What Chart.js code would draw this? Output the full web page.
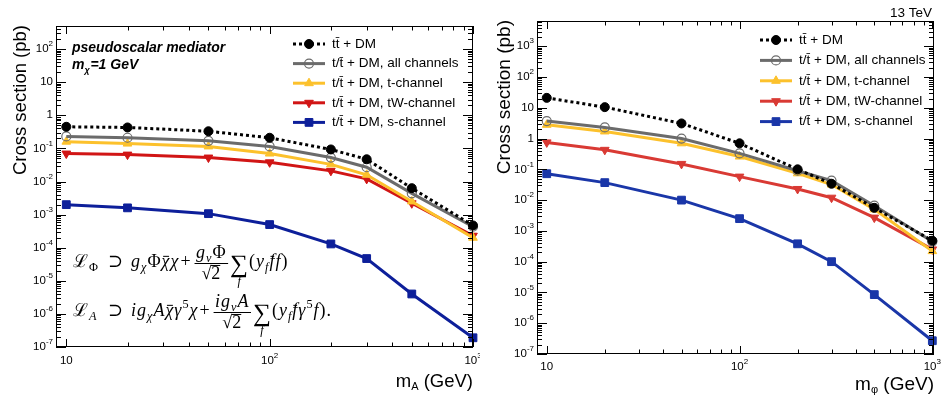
<!DOCTYPE html>
<html lang="en">
<head>
<meta charset="UTF-8" />
<title>t/tt + DM cross sections</title>
<script src="https://cdn.jsdelivr.net/npm/chart.js"></script>
<style>
  body { margin: 0; background: #fff; }
  #wrap { position: relative; width: 949px; height: 397px; overflow: hidden; }
  canvas { position: absolute; top: 0; }
  #left { left: 0; }
  #right { left: 480px; }
</style>
</head>
<body>
<div id="wrap">
  <canvas id="left" width="480" height="397"></canvas>
  <canvas id="right" width="469" height="397"></canvas>
</div>
<script>
// mediator masses (GeV)
const masses = [10, 20, 50, 100, 200, 300, 500, 1000];

// pseudoscalar mediator, cross sections in pb
const psTTDM = [0.45, 0.43, 0.33, 0.21, 0.093, 0.047, 0.0063, 4.7e-4];
const psAll  = [0.23, 0.21, 0.17, 0.115, 0.053, 0.027, 0.0044, 4.3e-4];
const psT    = [0.16, 0.14, 0.115, 0.07, 0.033, 0.016, 0.0025, 2.0e-4];
const psTW   = [0.07, 0.065, 0.053, 0.038, 0.021, 0.012, 0.0022, 2.3e-4];
const psS    = [0.002, 0.0016, 0.00107, 5e-4, 1.3e-4, 4.7e-5, 4e-6, 1.9e-7];

// scalar mediator, cross sections in pb
const scTTDM = [21, 10.5, 3.1, 0.7, 0.1, 0.034, 0.0056, 4.8e-4];
const scAll  = [3.7, 2.3, 1.0, 0.33, 0.09, 0.043, 0.0066, 4.5e-4];
const scT    = [2.8, 1.7, 0.7, 0.26, 0.074, 0.032, 0.005, 2.2e-4];
const scTW   = [0.75, 0.43, 0.15, 0.058, 0.023, 0.012, 0.0027, 2.5e-4];
const scS    = [0.072, 0.037, 0.01, 0.0025, 3.8e-4, 1e-4, 8.5e-6, 2.7e-7];

const seriesLabels = [
  'tt\u0304 + DM',
  't/t\u0304 + DM, all channels',
  't/t\u0304 + DM, t-channel',
  't/t\u0304 + DM, tW-channel',
  't/t\u0304 + DM, s-channel'
];

// axis ticks (powers of ten)
const xMajor = [10, 100, 1000];
const yMajor = [1e-7, 1e-6, 1e-5, 1e-4, 1e-3, 1e-2, 1e-1, 1, 10, 100, 1000];

const SANS = '"Liberation Sans", Arial, Helvetica, sans-serif';
const SERIF = '"Liberation Serif", "DejaVu Serif", serif';

function styles(red, blue) {
  return [
    { color: '#000000', width: 3, dash: [3, 3], point: 'circle', radius: 4.5, fill: true },
    { color: '#6b6b6b', width: 3, dash: [], point: 'circle', radius: 4.5, fill: false },
    { color: '#fcc12c', width: 3, dash: [], point: 'triangle', radius: 5, fill: true },
    { color: red, width: 3, dash: [], point: 'triangle', radius: 5, rotation: 180, fill: true },
    { color: blue, width: 3, dash: [], point: 'rect', radius: 5.5, fill: true }
  ];
}

function makeDatasets(series, st) {
  return series.map((vals, i) => {
    const s = st[i];
    return {
      label: seriesLabels[i],
      data: masses.map((m, j) => ({ x: m, y: vals[j] })),
      borderColor: s.color,
      borderWidth: s.width,
      borderDash: s.dash,
      pointStyle: s.point,
      pointRadius: s.radius,
      pointRotation: s.rotation || 0,
      pointBackgroundColor: s.fill ? s.color : 'rgba(255,255,255,0)',
      pointBorderColor: s.color,
      pointBorderWidth: s.fill ? 1 : 1.2,
      tension: 0,
      fill: false,
      clip: 8
    };
  });
}

function decadeTicks(majors, min, max) {
  const out = [];
  majors.forEach(d => {
    for (let k = 1; k <= 9; k++) {
      const v = d * k;
      if (v >= min * 0.999 && v <= max * 1.001) out.push({ v, major: k === 1 });
    }
  });
  return out;
}

function powLabel(v) {
  const e = Math.round(Math.log10(v));
  if (e === 0) return ['1', ''];
  if (e === 1) return ['10', ''];
  return ['10', String(e)];
}

function drawPow(ctx, v, x, y, align) {
  const [b, e] = powLabel(v);
  ctx.font = '11.5px ' + SANS;
  const wb = ctx.measureText(b).width;
  ctx.font = '8px ' + SANS;
  const we = e ? ctx.measureText(e).width : 0;
  let x0 = align === 'right' ? x - wb - we : x - (wb + we) / 2;
  ctx.textAlign = 'left';
  ctx.textBaseline = 'middle';
  ctx.font = '11.5px ' + SANS;
  ctx.fillText(b, x0, y);
  if (e) {
    ctx.font = '8px ' + SANS;
    ctx.fillText(e, x0 + wb, y - 5);
  }
}

// small math typesetting for the Lagrangian lines
function mrun(ctx, items, x, y, size, draw) {
  let cx = x;
  for (const it of items) {
    if (it.gap) { cx += it.gap; continue; }
    if (it.frac) { cx += mfrac(ctx, it.frac[0], it.frac[1], cx, y, size, draw); continue; }
    if (it.sum) {
      ctx.font = (size * 1.4) + 'px ' + SERIF;
      const w = ctx.measureText('\u2211').width;
      if (draw) ctx.fillText('\u2211', cx, y + 5);
      ctx.font = 'italic ' + (size * 0.68) + 'px ' + SERIF;
      const ws = ctx.measureText(it.sum).width;
      if (draw) ctx.fillText(it.sum, cx + (w - ws) / 2, y + 18);
      cx += w;
      continue;
    }
    ctx.font = (it.i ? 'italic ' : '') + size + 'px ' + SERIF;
    const w = ctx.measureText(it.t).width;
    if (draw) {
      ctx.fillText(it.t, cx, y);
      if (it.bar) ctx.fillRect(cx + w * 0.2, y - size * 0.62, w * 0.75, 1);
      if (it.root) ctx.fillRect(cx + w * 0.5, y - size * 0.78, w * 0.5, 1);
    }
    let extra = 0;
    if (it.sub || it.sup) {
      ctx.font = (it.subUp ? '' : 'italic ') + (size * 0.68) + 'px ' + SERIF;
      if (it.sub) {
        if (draw) ctx.fillText(it.sub, cx + w + 1, y + size * 0.22);
        extra = Math.max(extra, ctx.measureText(it.sub).width + 1);
      }
      if (it.sup) {
        ctx.font = (size * 0.68) + 'px ' + SERIF;
        if (draw) ctx.fillText(it.sup, cx + w + 1, y - size * 0.42);
        extra = Math.max(extra, ctx.measureText(it.sup).width + 1);
      }
    }
    cx += w + extra + 1;
  }
  return cx - x;
}

function mfrac(ctx, num, den, x, y, size, draw) {
  const wn = mrun(ctx, num, 0, 0, size, false);
  const wd = mrun(ctx, den, 0, 0, size, false);
  const w = Math.max(wn, wd) + 3;
  if (draw) {
    const axis = y - 4;
    ctx.fillRect(x, axis, w, 1);
    mrun(ctx, num, x + (w - wn) / 2, axis - 5, size, true);
    mrun(ctx, den, x + (w - wd) / 2, axis + 16, size, true);
  }
  return w;
}

const lagPhi = [
  { x: 73, items: [{ t: '\u2112', sub: '\u03A6', subUp: true }] },
  { x: 108, items: [{ t: '\u2283' }] },
  { x: 131, items: [
    { t: 'g', i: true, sub: '\u03C7' }, { t: '\u03A6' }, { t: '\u03C7', i: true, bar: true }, { t: '\u03C7', i: true },
    { gap: 1 }, { t: '+' }, { gap: 3 },
    { frac: [[{ t: 'g', i: true, sub: 'v' }, { t: '\u03A6' }], [{ t: '\u221A2', root: true }]] },
    { gap: 2 }, { sum: 'f' }, { gap: 1 },
    { t: '(' }, { t: 'y', i: true, sub: 'f' }, { t: 'f', i: true, bar: true }, { t: 'f', i: true }, { t: ')' }
  ] }
];

const lagA = [
  { x: 73, items: [{ t: '\u2112', sub: 'A' }] },
  { x: 108, items: [{ t: '\u2283' }] },
  { x: 131, items: [
    { t: 'i', i: true }, { t: 'g', i: true, sub: '\u03C7' }, { t: 'A', i: true }, { t: '\u03C7', i: true, bar: true },
    { t: '\u03B3', i: true, sup: '5' }, { t: '\u03C7', i: true },
    { gap: 1 }, { t: '+' }, { gap: 3 },
    { frac: [[{ t: 'i', i: true }, { t: 'g', i: true, sub: 'v' }, { t: 'A', i: true }], [{ t: '\u221A2', root: true }]] },
    { gap: 2 }, { sum: 'f' }, { gap: 1 },
    { t: '(' }, { t: 'y', i: true, sub: 'f' }, { t: 'f', i: true, bar: true }, { t: '\u03B3', i: true, sup: '5' },
    { t: 'f', i: true }, { t: ')' }, { t: '.' }
  ] }
];

const decor = {
  id: 'decor',
  afterDatasetsDraw(chart, args, o) {
    const ctx = chart.ctx;
    const a = chart.chartArea;
    const xs = chart.scales.x, ys = chart.scales.y;
    ctx.save();
    ctx.fillStyle = '#000';
    ctx.strokeStyle = '#000';
    ctx.lineWidth = 1;

    // frame
    ctx.strokeRect(a.left + 0.5, a.top + 0.5, a.right - a.left - 1, a.bottom - a.top - 1);

    // ticks (inward, mirrored on all sides)
    ctx.beginPath();
    decadeTicks(yMajor, ys.min, ys.max).forEach(t => {
      const p = Math.round(ys.getPixelForValue(t.v)) + 0.5;
      const len = t.major ? 10 : 5;
      ctx.moveTo(a.left, p); ctx.lineTo(a.left + len, p);
      ctx.moveTo(a.right, p); ctx.lineTo(a.right - len, p);
    });
    decadeTicks(xMajor, xs.min, xs.max).forEach(t => {
      const p = Math.round(xs.getPixelForValue(t.v)) + 0.5;
      const len = t.major ? 8 : 4.5;
      ctx.moveTo(p, a.bottom); ctx.lineTo(p, a.bottom - len);
      ctx.moveTo(p, a.top); ctx.lineTo(p, a.top + len);
    });
    ctx.stroke();

    // tick labels
    yMajor.filter(v => v >= ys.min * 0.999 && v <= ys.max).forEach(v => {
      drawPow(ctx, v, a.left - o.yLabGap, ys.getPixelForValue(v), 'right');
    });
    xMajor.forEach(v => {
      drawPow(ctx, v, xs.getPixelForValue(v), a.bottom + o.xLabGap, 'center');
    });

    // axis titles
    ctx.save();
    ctx.translate(o.yTitleX, a.top - 1);
    ctx.rotate(-Math.PI / 2);
    ctx.font = o.titleSize + 'px ' + SANS;
    ctx.textAlign = 'right';
    ctx.textBaseline = 'middle';
    ctx.fillText('Cross section (pb)', 0, 0);
    ctx.restore();

    ctx.textBaseline = 'alphabetic';
    ctx.textAlign = 'left';
    ctx.font = o.titleSize + 'px ' + SANS;
    const wRest = ctx.measureText(' (GeV)').width;
    const wm = ctx.measureText('m').width;
    ctx.font = '11px ' + SANS;
    const wsub = ctx.measureText(o.xSub).width;
    const x0 = a.right - wRest - wsub - wm;
    ctx.font = o.titleSize + 'px ' + SANS;
    ctx.fillText('m', x0, o.xTitleY);
    ctx.fillText(' (GeV)', x0 + wm + wsub, o.xTitleY);
    ctx.font = '11px ' + SANS;
    ctx.fillText(o.xSub, x0 + wm, o.xTitleY + 3);

    // mediator label
    ctx.font = 'italic bold 14px ' + SANS;
    ctx.fillText(o.mediator, o.medX, o.medY);
    ctx.fillText('m', o.medX, o.medY + 17);
    const wm2 = ctx.measureText('m').width;
    ctx.font = 'italic bold 9px ' + SANS;
    ctx.fillText('\u03C7', o.medX + wm2, o.medY + 21);
    ctx.font = 'italic bold 14px ' + SANS;
    ctx.fillText('=1 GeV', o.medX + wm2 + 6, o.medY + 17);

    // legend
    chart.data.datasets.forEach((ds, i) => {
      const y = o.legY + i * o.legStep;
      ctx.save();
      ctx.strokeStyle = ds.borderColor;
      ctx.lineWidth = ds.borderWidth;
      ctx.setLineDash(ds.borderDash);
      ctx.beginPath();
      ctx.moveTo(o.legX, y); ctx.lineTo(o.legX + 32, y);
      ctx.stroke();
      ctx.setLineDash([]);
      ctx.fillStyle = ds.pointBackgroundColor;
      ctx.strokeStyle = ds.pointBorderColor;
      ctx.lineWidth = ds.pointBorderWidth;
      Chart.helpers.drawPoint(ctx, {
        pointStyle: ds.pointStyle, radius: ds.pointRadius,
        rotation: ds.pointRotation, borderWidth: ds.pointBorderWidth
      }, o.legX + 16, y);
      ctx.restore();
      ctx.fillStyle = '#000';
      ctx.font = '13.5px ' + SANS;
      ctx.textBaseline = 'middle';
      ctx.fillText(ds.label, o.legX + 39, y);
    });

    if (o.energy) {
      ctx.font = '13.5px ' + SANS;
      ctx.textAlign = 'right';
      ctx.textBaseline = 'alphabetic';
      ctx.fillText(o.energy, a.right - 2, 17);
      ctx.textAlign = 'left';
    }

    if (o.lagrangian) {
      ctx.textBaseline = 'alphabetic';
      [[lagPhi, 267], [lagA, 316]].forEach(([segs, y]) => {
        segs.forEach(s => mrun(ctx, s.items, s.x, y, 18, true));
      });
    }
    ctx.restore();
  }
};

function makeChart(id, series, red, blue, yMax, xMax, pad, deco) {
  return new Chart(document.getElementById(id), {
    type: 'line',
    data: { datasets: makeDatasets(series, styles(red, blue)) },
    options: {
      responsive: false,
      animation: false,
      devicePixelRatio: 1,
      layout: { padding: pad },
      scales: {
        x: { type: 'logarithmic', min: 8.9, max: xMax, display: false },
        y: { type: 'logarithmic', min: 1e-7, max: yMax, display: false }
      },
      plugins: { legend: { display: false }, tooltip: { enabled: false }, decor: deco }
    },
    plugins: [decor]
  });
}

makeChart('left', [psTTDM, psAll, psT, psTW, psS], '#d11515', '#0d1f9a', 500, 1000,
  { left: 56, top: 26, right: 7, bottom: 50 },
  { yLabGap: 3, xLabGap: 14, yTitleX: 21, titleSize: 18.5, xSub: 'A', xTitleY: 387,
    mediator: 'pseudoscalar mediator', medX: 72, medY: 52, legX: 293, legY: 44, legStep: 19.6,
    lagrangian: true });

makeChart('right', [scTTDM, scAll, scT, scTW, scS], '#d93a34', '#1a36a8', 6600, 1020,
  { left: 57, top: 21, right: 15, bottom: 43 },
  { yLabGap: 3, xLabGap: 13, yTitleX: 25, titleSize: 19, xSub: '\u03C6', xTitleY: 390,
    mediator: 'scalar mediator', medX: 552, medY: 47, legX: 280, legY: 40, legStep: 20.4,
    energy: '13 TeV' });
</script>
</body>
</html>
